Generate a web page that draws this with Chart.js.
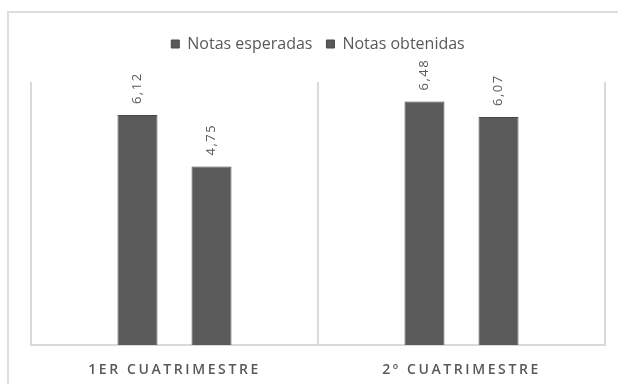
<!DOCTYPE html>
<html>
<head>
<meta charset="utf-8">
<script src="https://cdn.jsdelivr.net/npm/chart.js@4/dist/chart.umd.min.js"></script>
<style>
  html, body { margin: 0; padding: 0; background: #fff; overflow: hidden; }
  #wrap { position: relative; width: 618px; height: 384px; }
  #frame {
    position: absolute; left: 7px; top: 11px; width: 700px; height: 500px;
    border: 2px solid #dedede; pointer-events: none;
  }
</style>
</head>
<body>
<div id="wrap">
  <canvas id="chart" width="618" height="384"></canvas>
  <div id="frame"></div>
</div>
<script>
// data
const categories = ['1ER CUATRIMESTRE', '2º CUATRIMESTRE'];
const seriesNames = ['Notas esperadas', 'Notas obtenidas'];
const esperadas = [6.12, 6.48];
const obtenidas = [4.75, 6.07];

const grey = '#5a5a5a';
const lineGrey = '#d9d9d9';
const textGrey = '#595959';

// rotated value labels above each bar
const barLabels = {
    id: 'barLabels',
    afterDatasetsDraw(chart) {
        const ctx = chart.ctx;
        ctx.save();
        ctx.font = '13px "Open Sans"';
        ctx.fillStyle = textGrey;
        ctx.letterSpacing = '1.5px';
        ctx.textAlign = 'left';
        ctx.textBaseline = 'middle';
        chart.data.datasets.forEach((ds, i) => {
            chart.getDatasetMeta(i).data.forEach((bar, j) => {
                const txt = ds.data[j].toFixed(2).replace('.', ',');
                ctx.save();
                ctx.translate(bar.x, bar.y - 11);
                ctx.rotate(-Math.PI / 2);
                ctx.fillText(txt, 0, 0);
                ctx.restore();
            });
        });
        ctx.restore();
    }
};

// wider letter spacing for the category labels, more room under the legend
const tweaks = {
    id: 'tweaks',
    beforeInit(chart) {
        const fit = chart.legend.fit;
        chart.legend.fit = function () {
            fit.call(this);
            this.height += 20;
        };
    },
    beforeDraw(chart) {
        const x = chart.scales.x;
        if (x && !x._spaced) {
            const orig = x.drawLabels;
            x.drawLabels = function (area) {
                this.ctx.save();
                this.ctx.letterSpacing = '2.6px';
                orig.call(this, area);
                this.ctx.restore();
            };
            x._spaced = true;
        }
    }
};

new Chart(document.getElementById('chart'), {
    type: 'bar',
    data: {
        labels: categories,
        datasets: [
            {
                label: seriesNames[0],
                data: esperadas,
                backgroundColor: grey,
                borderColor: '#484848',
                borderWidth: 1
            },
            {
                label: seriesNames[1],
                data: obtenidas,
                backgroundColor: grey,
                borderColor: '#484848',
                borderWidth: 1
            }
        ]
    },
    options: {
        responsive: false,
        animation: false,
        categoryPercentage: 0.516,
        barPercentage: 0.54,
        layout: { padding: { left: 31, right: 13, top: 22, bottom: 0 } },
        scales: {
            x: {
                afterFit(scale) { scale.height = 39; },
                grid: { display: true, offset: true, color: lineGrey, lineWidth: 2, drawTicks: false },
                border: { display: true, color: lineGrey, width: 2 },
                ticks: {
                    color: textGrey,
                    padding: 17,
                    font: { family: 'Open Sans', size: 14, weight: '600' }
                }
            },
            y: {
                display: false,
                min: 0,
                max: 7
            }
        },
        plugins: {
            legend: {
                position: 'top',
                labels: {
                    color: textGrey,
                    boxWidth: 8,
                    boxHeight: 8,
                    padding: 14,
                    font: { family: 'Open Sans', size: 16 }
                }
            },
            tooltip: { enabled: false }
        }
    },
    plugins: [barLabels, tweaks]
});
</script>
</body>
</html>
